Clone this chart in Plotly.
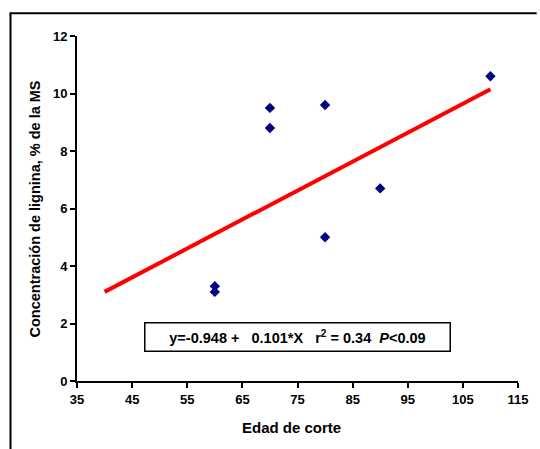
import plotly.graph_objects as go

# data
edad = [60, 60, 70, 70, 80, 80, 90, 110]
lignina = [3.3, 3.1, 9.5, 8.8, 9.6, 5.0, 6.7, 10.6]
trend_x = [40, 110]
trend_y = [3.1, 10.15]
x_ticks = [35, 45, 55, 65, 75, 85, 95, 105, 115]
y_ticks = [0, 2, 4, 6, 8, 10, 12]

W, H = 540, 449
L, R, T, B = 77, 14, 36, 67.5
pw, ph = W - L - R, H - T - B

def px(x):
    return (x - L) / pw

def py(y):
    return (H - B - y) / ph

FAM = "Arial, Liberation Sans, sans-serif"
font = dict(family=FAM, size=15, color="black")

fig = go.Figure()
fig.add_trace(go.Scatter(x=trend_x, y=trend_y, mode="lines",
                         line=dict(color="#ff0000", width=4), showlegend=False))
fig.add_trace(go.Scatter(x=edad, y=lignina, mode="markers",
                         marker=dict(symbol="diamond", size=8, color="#000080"),
                         showlegend=False))

axis_common = dict(showgrid=False, zeroline=False, showline=True, linecolor="black",
                   linewidth=2, ticks="outside", ticklen=5, tickwidth=2, tickcolor="black",
                   tickfont=dict(family=FAM, size=13, color="black"))

fig.update_xaxes(range=[35, 115], tickvals=x_ticks, ticktext=[f"<b>{v}</b>" for v in x_ticks],
                 **axis_common)
fig.update_yaxes(range=[0, 12], tickvals=y_ticks, ticktext=[f"<b>{v}</b>" for v in y_ticks],
                 **axis_common)

fig.update_layout(
    width=W, height=H,
    margin=dict(l=L, r=R, t=T, b=B),
    plot_bgcolor="white", paper_bgcolor="white",
    font=font,
    shapes=[
        dict(type="line", xref="paper", yref="paper", x0=px(8.3), x1=px(545), y0=py(13.3), y1=py(13.3),
             line=dict(color="black", width=2)),
        dict(type="line", xref="paper", yref="paper", x0=px(9.3), x1=px(9.3), y0=py(13.3), y1=py(455),
             line=dict(color="black", width=2)),
    ],
    annotations=[
        dict(text="<b>Edad de corte</b>", xref="paper", yref="paper", x=px(295), y=py(428),
             showarrow=False, font=font, xanchor="center", yanchor="middle"),
        dict(text="<b>Concentración de lignina, % de la MS</b>", xref="paper", yref="paper",
             x=px(34), y=py(209), textangle=-90, showarrow=False,
             font=dict(family=FAM, size=14.5, color="black"),
             xanchor="center", yanchor="middle"),
        dict(text="<b>y=-0.948 +&nbsp;&nbsp; 0.101*X&nbsp;&nbsp; r<sup>2</sup> = 0.34&nbsp; <i>P</i>&lt;0.09</b>",
             xref="paper", yref="paper", x=px(301.5), y=py(337), showarrow=False,
             font=dict(family=FAM, size=14.5, color="black"),
             xanchor="center", yanchor="middle", align="center",
             width=302, height=25, borderpad=1, bordercolor="black", borderwidth=1.5,
             bgcolor="white"),
    ],
)

fig.write_html("out.html")
